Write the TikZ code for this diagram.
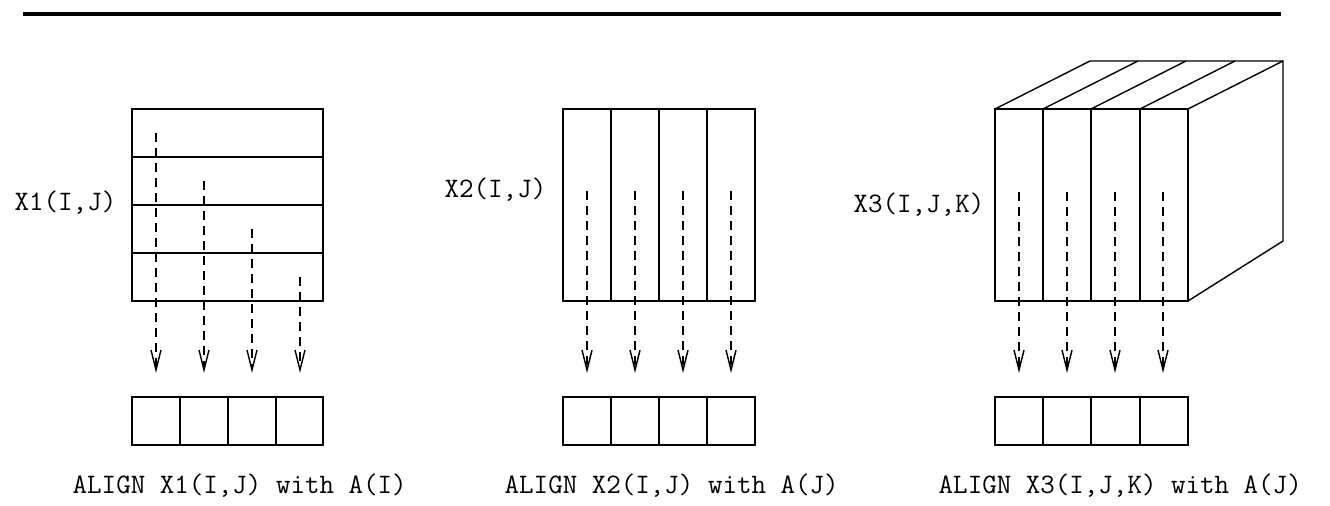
\documentclass[tikz,border=0pt]{standalone}
\usetikzlibrary{arrows.meta}
\begin{document}
\begin{tikzpicture}[x=0.5pt,y=-0.5pt,line width=0.7pt,
  lbl/.style={inner sep=0pt,font=\fontsize{14.1}{16}\selectfont\ttfamily},
  flow/.style={dash pattern=on 4.5pt off 3pt,
    -{Straight Barb[length=10pt,width=5pt,line width=0.7pt]}},
  rule/.style={line width=2pt}]
\useasboundingbox (0,0) rectangle (1330,506);

% heading rule
\coordinate (ruleL) at (23,14);
\coordinate (ruleR) at (1281,14);
\draw[rule] (ruleL) -- (ruleR);

% ---------- X1(I,J): rows ----------
\draw (132,109) rectangle (323,301);
\foreach \y in {157,205,253} \draw (132,\y) -- (323,\y);
\node[lbl,anchor=east] (lx1) at (117,203) {X1(I,J)};
\foreach \i/\x/\y in {1/156/133,2/204/181,3/252/229,4/300/277}{
  \coordinate (s1\i) at (\x,\y);
  \coordinate (t1\i) at (\x,373);
  \draw[flow] (s1\i) -- (t1\i);
}
\draw (132,397) rectangle (323,445);
\foreach \x in {180,228,276} \draw (\x,397) -- (\x,445);
\node[lbl,anchor=west] (c1) at (72,486) {ALIGN X1(I,J) with A(I)};

% ---------- X2(I,J): columns ----------
\draw (563,109) rectangle (755,301);
\foreach \x in {611,659,707} \draw (\x,109) -- (\x,301);
\node[lbl,anchor=east] (lx2) at (547,190) {X2(I,J)};
\foreach \i/\x in {1/587,2/635,3/683,4/731}{
  \coordinate (s2\i) at (\x,191);
  \coordinate (t2\i) at (\x,373);
  \draw[flow] (s2\i) -- (t2\i);
}
\draw (563,397) rectangle (755,445);
\foreach \x in {611,659,707} \draw (\x,397) -- (\x,445);
\node[lbl,anchor=west] (c2) at (504,486) {ALIGN X2(I,J) with A(J)};

% ---------- X3(I,J,K): slabs of a block ----------
\draw (995,109) rectangle (1188,301);
\foreach \x in {1043,1091,1140} \draw (\x,109) -- (\x,301);
\foreach \x in {995,1043,1091,1140,1188} \draw (\x,109) -- ++(95,-48);
\draw (1090,61) -- (1283,61) -- (1283,241) -- (1188,301);
\node[lbl,anchor=east] (lx3) at (985,205) {X3(I,J,K)};
\foreach \i/\x in {1/1019,2/1067,3/1115,4/1163}{
  \coordinate (s3\i) at (\x,192);
  \coordinate (t3\i) at (\x,373);
  \draw[flow] (s3\i) -- (t3\i);
}
\draw (995,397) rectangle (1188,445);
\foreach \x in {1043,1091,1140} \draw (\x,397) -- (\x,445);
\node[lbl,anchor=west] (c3) at (938,486) {ALIGN X3(I,J,K) with A(J)};
\end{tikzpicture}
\end{document}
